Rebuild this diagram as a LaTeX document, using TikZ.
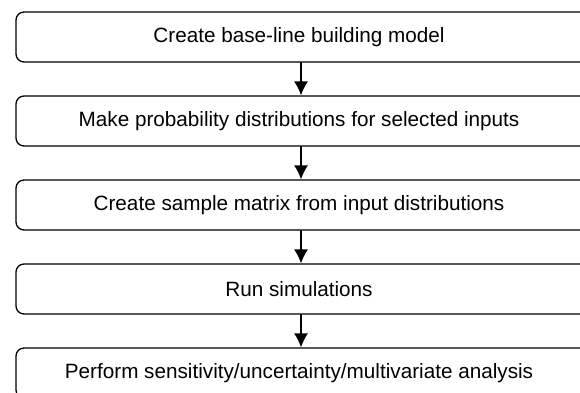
\documentclass[tikz,border=0pt]{standalone}
\usepackage{fontspec}
\setsansfont{Liberation Sans}
\usepackage{tikz}
\usetikzlibrary{arrows.meta,positioning}

\begin{document}
\begin{tikzpicture}[x=1pt, y=1pt, font=\sffamily\fontsize{20.7}{24}\selectfont, line cap=round, line join=round, >={Latex[length=14pt,width=14pt]},
  stage/.style={draw, rectangle, rounded corners=8pt, line width=1.3pt, minimum width=580pt, minimum height=50pt, inner sep=0pt}]
\useasboundingbox (0,0) rectangle (580,-392);
\coordinate (s1) at (306,-37); \coordinate (s2) at (306,-121); \coordinate (s3) at (306,-205); \coordinate (s4) at (306,-289); \coordinate (s5) at (306,-373);
\node[stage] (MODEL) at (s1) {};
\node[stage] (DIST) at (s2) {};
\node[stage] (SAMPLE) at (s3) {};
\node[stage] (RUN) at (s4) {};
\node[stage] (ANALYSIS) at (s5) {};
\node (tMODEL) at (299,-37) {Create base-line building model};
\node (tDIST) at (299,-121) {Make probability distributions for selected inputs};
\node (tSAMPLE) at (299,-205) {Create sample matrix from input distributions};
\node (tRUN) at (299,-289) {Run simulations};
\node (tANALYSIS) at (299,-373) {Perform sensitivity/uncertainty/multivariate analysis};
\draw[->, line width=1.3pt] ([xshift=-5pt]MODEL.south) -- ([xshift=-5pt]DIST.north);
\draw[->, line width=1.3pt] ([xshift=-5pt]DIST.south) -- ([xshift=-5pt]SAMPLE.north);
\draw[->, line width=1.3pt] ([xshift=-5pt]SAMPLE.south) -- ([xshift=-5pt]RUN.north);
\draw[->, line width=1.3pt] ([xshift=-5pt]RUN.south) -- ([xshift=-5pt]ANALYSIS.north);
\end{tikzpicture}
\end{document}
